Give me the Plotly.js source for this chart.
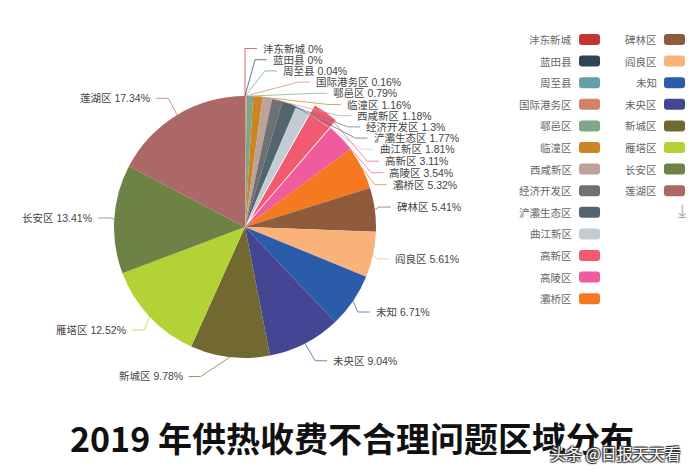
<!DOCTYPE html>
<html>
<head>
<meta charset="utf-8">
<script src="https://cdn.plot.ly/plotly-3.0.1.min.js"></script>
<style>
  html, body { margin: 0; padding: 0; background: #ffffff; }
  #chart { width: 700px; height: 474px; }
</style>
</head>
<body>
<div id="chart"></div>
<script>
const districts = [
  "沣东新城", "蓝田县", "周至县", "国际港务区", "鄠邑区", "临潼区", "西咸新区",
  "经济开发区", "浐灞生态区", "曲江新区", "高新区", "高陵区", "灞桥区",
  "碑林区", "阎良区", "未知", "未央区", "新城区", "雁塔区", "长安区", "莲湖区"
];
const shares = [
  0, 0, 0.04, 0.16, 0.79, 1.16, 1.18,
  1.3, 1.77, 1.81, 3.11, 3.54, 5.32,
  5.41, 5.61, 6.71, 9.04, 9.78, 12.52, 13.41, 17.34
];
const sliceColors = [
  "#c23531", "#2f4554", "#61a0a8", "#d48265", "#7fa58b", "#ca8622", "#bda29a",
  "#6e7074", "#546570", "#c4ccd3", "#f05b72", "#ef5b9c", "#f47920",
  "#905a3d", "#fab27b", "#2a5caa", "#444693", "#726930", "#b2d235", "#6d8346", "#ac6767"
];
const pulledOut = "高新区";

const W = 700, H = 474;
const px = (x) => x / W;
const py = (y) => 1 - y / H;

// pie geometry in page pixels
const CX = 245, CY = 227, R = 131, PULL = 0.07;
const pull = districts.map((d) => (d === pulledOut ? PULL : 0));
const half = R * (1 + PULL);

const pie = {
  type: "pie",
  labels: districts,
  values: shares,
  sort: false,
  direction: "clockwise",
  rotation: 0,
  pull: pull,
  marker: { colors: sliceColors, line: { color: "#ffffff", width: 0 } },
  textinfo: "none",
  hoverinfo: "label+value",
  showlegend: false,
  domain: { x: [px(CX - half), px(CX + half)], y: [py(CY + half), py(CY - half)] },
};

// outside labels with bent leader lines (echarts-like spreading).
// layout is done in a space squashed vertically by STRETCH, then mapped back.
const RL = 128, LEN1 = 12, LEN2 = 12, GAP = 5, STRETCH = 1.075, LINE_H = 11.2 / STRETCH;
const total = shares.reduce((a, b) => a + b, 0);
let acc = 0;
const labelItems = districts.map((d, i) => {
  const mid = ((acc + shares[i] / 2) / total) * 2 * Math.PI;
  acc += shares[i];
  const sx = Math.sin(mid), sy = -Math.cos(mid);
  const side = sx < -1e-9 ? -1 : 1;
  const x2 = CX + (RL + LEN1) * sx;
  return {
    i, side, mid,
    x: x2 + side * (LEN2 + GAP),
    y: CY + (RL + LEN1) * sy,
  };
});

function spreadSide(list, dir) {
  list.sort((a, b) => a.y - b.y);
  const n = list.length;
  function shiftUp(end, delta) {
    for (let j = end; j >= 0; j--) {
      if (list[j].y - delta < 0) break;
      list[j].y -= delta;
      if (j > 0 && list[j].y > list[j - 1].y + LINE_H) break;
    }
  }
  function shiftDown(start, end, delta) {
    for (let j = start; j < end; j++) {
      if (list[j].y + delta > H) break;
      list[j].y += delta;
      if (j > start && j + 1 < end && list[j + 1].y > list[j].y + LINE_H) {
        shiftUp(j, delta / 2);
        return;
      }
    }
    shiftUp(end - 1, delta / 2);
  }
  let lastY = 0;
  for (let i = 0; i < n; i++) {
    const delta = list[i].y - lastY;
    if (delta < 0) shiftDown(i, n, -delta);
    lastY = list[i].y + LINE_H;
  }
  const outer = RL + LEN1 + LEN2;
  const place = (group, goingDown) => {
    let last = goingDown ? Infinity : 0;
    group.forEach((p) => {
      const dy = Math.abs(p.y - CY);
      let dx = dy < RL + LEN1 ? Math.sqrt(outer * outer - dy * dy) : Math.abs(p.x - CX);
      if (goingDown && dx >= last) dx = last - 10;
      if (!goingDown && dx <= last) dx = last + 10;
      p.x = CX + dx * dir;
      last = dx;
    });
  };
  place(list.filter((p) => p.y < CY), false);
  place(list.filter((p) => p.y >= CY), true);
}
spreadSide(labelItems.filter((p) => p.side > 0), 1);
spreadSide(labelItems.filter((p) => p.side < 0), -1);

const shapes = [];
const annotations = [];

labelItems.forEach((p) => {
  const y = CY + (p.y - CY) * STRETCH;
  const r0 = R * (1 + pull[p.i]);
  const ax = CX + r0 * Math.sin(p.mid), ay = CY - r0 * Math.cos(p.mid);
  const x3 = p.x - p.side * GAP;
  const x2 = x3 - p.side * LEN2;
  shapes.push({
    type: "path", xref: "paper", yref: "paper",
    path: `M${px(ax)},${py(ay)} L${px(x2)},${py(y)} L${px(x3)},${py(y)}`,
    line: { color: sliceColors[p.i], width: 1 }, opacity: 0.7,
  });
  annotations.push({
    xref: "paper", yref: "paper", x: px(p.x), y: py(y),
    xanchor: p.side > 0 ? "left" : "right", yanchor: "middle", showarrow: false,
    text: `${districts[p.i]} ${shares[p.i]}%`,
    borderpad: 0,
    font: { family: "Liberation Sans, Noto Sans CJK SC, sans-serif", size: 10.5, color: "#444" },
  });
});

function roundRect(x0, y0, x1, y1, r) {
  // pixel box -> paper path with rounded corners
  const rx = r / W, ry = r / H;
  const a = px(x0), b = px(x1), top = py(y0), bot = py(y1);
  return `M${a + rx},${top} L${b - rx},${top} Q${b},${top} ${b},${top - ry} ` +
    `L${b},${bot + ry} Q${b},${bot} ${b - rx},${bot} L${a + rx},${bot} ` +
    `Q${a},${bot} ${a},${bot + ry} L${a},${top - ry} Q${a},${top} ${a + rx},${top} Z`;
}

// legend on the right: text left of the swatch, two columns
const perCol = 13;
districts.forEach((d, i) => {
  const col = Math.floor(i / perCol);
  const row = i % perCol;
  const textRight = col === 0 ? 574 : 659;
  const yc = 39.5 + row * 21.6;
  annotations.push({
    xref: "paper", yref: "paper", x: px(textRight), y: py(yc),
    xanchor: "right", yanchor: "middle", showarrow: false,
    text: d, font: { family: "Noto Sans CJK SC, sans-serif", size: 10.5, color: "#666" },
  });
  shapes.push({
    type: "path", xref: "paper", yref: "paper",
    path: roundRect(textRight + 5, yc - 5.5, textRight + 26, yc + 5.5, 3),
    fillcolor: sliceColors[i], line: { width: 0 },
  });
});

annotations.push({
  xref: "paper", yref: "paper", x: px(682), y: py(211),
  xanchor: "center", yanchor: "middle", showarrow: false,
  text: "⤓", font: { family: "DejaVu Sans", size: 19, color: "#aaa" },
});

annotations.push({
  xref: "paper", yref: "paper", x: px(352), y: py(437),
  xanchor: "center", yanchor: "middle", showarrow: false,
  text: "<b>2019 年供热收费不合理问题区域分布</b>",
  font: { family: "Noto Sans CJK SC, sans-serif", size: 34, color: "#111" },
});

annotations.push({
  xref: "paper", yref: "paper", x: px(683), y: py(453),
  xanchor: "right", yanchor: "middle", showarrow: false,
  text: "头条 @日报天天看",
  font: {
    family: "Noto Sans CJK SC, sans-serif", size: 16, color: "#ffffff",
    shadow: "1px 1px 1px #333, -1px -1px 1px #333, 1px -1px 1px #333, -1px 1px 1px #333",
  },
});

const layout = {
  width: W,
  height: H,
  margin: { l: 0, r: 0, t: 0, b: 0 },
  paper_bgcolor: "#ffffff",
  plot_bgcolor: "#ffffff",
  showlegend: false,
  shapes: shapes,
  annotations: annotations,
};

Plotly.newPlot("chart", [pie], layout, { displayModeBar: false, staticPlot: true });
</script>
</body>
</html>
